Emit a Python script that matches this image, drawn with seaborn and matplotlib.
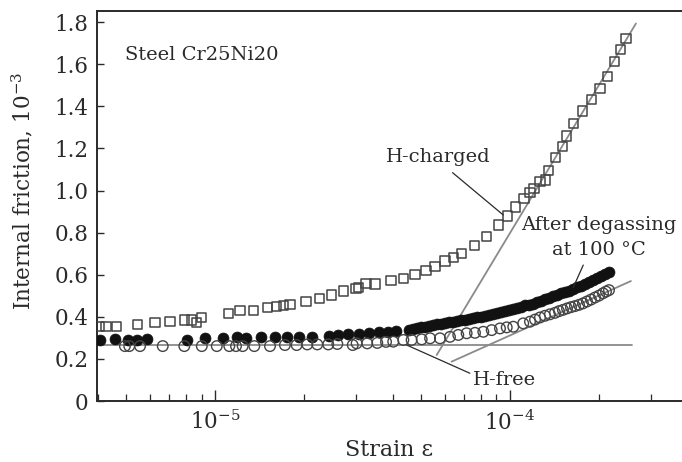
import numpy as np
import pandas as pd
import matplotlib
matplotlib.use("Agg")
import matplotlib.pyplot as plt
import matplotlib.ticker as mticker
import seaborn as sns

# ---------------- data (strain in units of 1e-5, internal friction in 1e-3) -------------
charged_strain = [0.405, 0.427, 0.464, 0.545, 0.626, 0.704, 0.787, 0.834, 0.863, 0.902,
                  1.109, 1.216, 1.349, 1.509, 1.619, 1.704, 1.795, 2.033, 2.259, 2.488,
                  2.735, 3.006, 3.062, 3.251, 3.485, 3.951, 4.348, 4.764, 5.188, 5.57,
                  6.025, 6.43, 6.86, 7.57, 8.34, 9.12, 9.79, 10.47, 11.15, 11.69,
                  12.06, 12.64, 13.21, 13.49, 14.29, 15.10, 15.56, 16.40, 17.62, 18.92,
                  20.18, 21.38, 22.59, 23.71, 24.72]
charged_q = [0.353, 0.353, 0.353, 0.364, 0.372, 0.377, 0.385, 0.385, 0.374, 0.396,
             0.417, 0.429, 0.432, 0.443, 0.451, 0.455, 0.459, 0.472, 0.488, 0.504,
             0.523, 0.535, 0.540, 0.559, 0.556, 0.572, 0.583, 0.603, 0.622, 0.641,
             0.665, 0.683, 0.702, 0.738, 0.781, 0.836, 0.879, 0.922, 0.964, 0.990,
             1.009, 1.042, 1.050, 1.094, 1.156, 1.208, 1.259, 1.319, 1.378, 1.433,
             1.486, 1.541, 1.615, 1.671, 1.723]

degassed_strain = [0.408, 0.458, 0.508, 0.543, 0.587, 0.802, 0.925, 1.067, 1.185, 1.274,
                   1.429, 1.597, 1.750, 1.931, 2.127, 2.441, 2.618, 2.831, 3.084, 3.334,
                   3.606, 3.868, 4.108,
                   4.55, 4.69, 4.84, 5.0, 5.15, 5.32, 5.49, 5.66, 5.84, 6.03,
                   6.22, 6.42, 6.62, 6.83, 7.05, 7.27, 7.5, 7.74, 7.99, 8.24,
                   8.5, 8.77, 9.05, 9.34, 9.63, 9.94, 10.25, 10.58, 10.92, 11.26,
                   11.62, 11.99, 12.37, 12.76, 13.17, 13.59, 14.02, 14.46, 14.92, 15.4,
                   15.88, 16.39, 16.91, 17.44, 18.0, 18.57, 19.16, 19.77, 20.39, 21.04, 21.7]
degassed_q = [0.290, 0.293, 0.290, 0.290, 0.293, 0.290, 0.298, 0.298, 0.303, 0.298,
              0.303, 0.303, 0.305, 0.305, 0.305, 0.309, 0.314, 0.318, 0.318, 0.324,
              0.326, 0.329, 0.334,
              0.339, 0.342, 0.346, 0.350, 0.353, 0.357, 0.361, 0.364, 0.368, 0.371,
              0.374, 0.377, 0.380, 0.383, 0.386, 0.389, 0.393, 0.397, 0.401, 0.405,
              0.409, 0.414, 0.419, 0.424, 0.429, 0.434, 0.439, 0.444, 0.449, 0.454,
              0.458, 0.463, 0.470, 0.477, 0.484, 0.491, 0.497, 0.504, 0.511, 0.517,
              0.524, 0.532, 0.540, 0.548, 0.557, 0.566, 0.575, 0.584, 0.594, 0.603, 0.612]

free_strain = [0.495, 0.512, 0.557, 0.665, 0.787, 0.902, 1.014, 1.118, 1.178, 1.241,
               1.359, 1.536, 1.726, 1.891, 2.055, 2.222, 2.421, 2.598, 2.930, 3.021,
               3.281, 3.549, 3.800, 4.02, 4.35, 4.64, 5.02, 5.36, 5.79, 6.26,
               6.68, 7.13, 7.61, 8.12, 8.67, 9.25, 9.75, 10.26, 11.09, 11.69,
               12.16, 12.64, 13.14, 13.66, 14.21, 14.66, 15.12, 15.61, 16.10, 16.61,
               17.14, 17.68, 18.24, 18.82, 19.42, 20.04, 20.67, 21.16, 21.66]
free_q = [0.261, 0.261, 0.261, 0.261, 0.261, 0.261, 0.261, 0.261, 0.261, 0.261,
          0.261, 0.261, 0.266, 0.266, 0.269, 0.269, 0.269, 0.271, 0.266, 0.274,
          0.274, 0.276, 0.281, 0.282, 0.290, 0.290, 0.293, 0.298, 0.298, 0.305,
          0.314, 0.322, 0.324, 0.329, 0.337, 0.345, 0.350, 0.353, 0.369, 0.377,
          0.387, 0.397, 0.405, 0.412, 0.419, 0.427, 0.433, 0.440, 0.446, 0.451,
          0.457, 0.464, 0.473, 0.482, 0.492, 0.501, 0.512, 0.520, 0.527]

# gray fit lines (endpoints)
charged_fit_strain = [5.643, 26.73]
charged_fit_q = [0.2185, 1.794]
free_fit_strain = [6.34, 25.7]
free_fit_q = [0.187, 0.570]
base_fit_strain = [0.40, 25.85]
base_fit_q = [0.266, 0.266]

SCALE = 1e-5

sns.set_style("ticks")
plt.rcParams["font.family"] = ["DejaVu Serif"]
plt.rcParams["mathtext.fontset"] = "dejavuserif"

fig = plt.figure(figsize=(6.82, 4.62), dpi=100)
ax = fig.add_axes([0.1422, 0.132, 0.8578, 0.844])

ink = "#2a2a2a"
gray = "#8a8a8a"

def df(xs, ys):
    return pd.DataFrame({"strain": np.asarray(xs) * SCALE, "q": ys})

for xs, ys in [(base_fit_strain, base_fit_q), (free_fit_strain, free_fit_q),
               (charged_fit_strain, charged_fit_q)]:
    sns.lineplot(data=df(xs, ys), x="strain", y="q", ax=ax, color=gray,
                 linewidth=1.3, zorder=1)

sns.scatterplot(data=df(degassed_strain, degassed_q), x="strain", y="q", ax=ax,
                marker="o", s=62, color="#111111", edgecolor="#111111", linewidth=0.5, zorder=3)
sns.scatterplot(data=df(free_strain, free_q), x="strain", y="q", ax=ax,
                marker="o", s=58, facecolor="none", edgecolor="#444444", linewidth=1.0, zorder=4)
sns.scatterplot(data=df(charged_strain, charged_q), x="strain", y="q", ax=ax,
                marker="s", s=44, facecolor="none", edgecolor="#444444", linewidth=1.1, zorder=4)

ax.set_xscale("log")
ax.set_xlim(3.98e-6, 3.83e-4)
ax.set_ylim(0, 1.853)

ax.xaxis.set_major_locator(mticker.LogLocator(base=10))
ax.xaxis.set_minor_locator(mticker.LogLocator(base=10, subs=np.arange(2, 10)))
ax.xaxis.set_major_formatter(mticker.LogFormatterMathtext())
ax.xaxis.set_minor_formatter(mticker.NullFormatter())
ax.set_yticks([0, 0.2, 0.4, 0.6, 0.8, 1.0, 1.2, 1.4, 1.6, 1.8])
ax.set_yticklabels(["0", "0.2", "0.4", "0.6", "0.8", "1.0", "1.2", "1.4", "1.6", "1.8"])

ax.tick_params(axis="both", which="both", direction="in", colors=ink, labelsize=15.5)
ax.tick_params(axis="x", which="major", length=8, width=1.0, pad=7)
ax.tick_params(axis="x", which="minor", length=5, width=0.9)
ax.tick_params(axis="y", which="major", length=5, width=1.0, pad=6)

for side in ["left", "bottom", "top"]:
    ax.spines[side].set_visible(True)
    ax.spines[side].set_color(ink)
    ax.spines[side].set_linewidth(1.4)
ax.spines["right"].set_visible(False)

ax.set_xlabel("Strain ε", fontsize=16, color=ink, labelpad=3)
ax.set_ylabel("Internal friction, 10$^{-3}$", fontsize=15.5, color=ink)
ax.yaxis.set_label_coords(-0.105, 0.54)

# annotations
fs = 14
ax.text(0.495 * SCALE, 1.644, "Steel Cr25Ni20", fontsize=fs, color=ink,
        ha="left", va="center")
ax.text(5.70 * SCALE, 1.159, "H-charged", fontsize=fs, color=ink, ha="center", va="center")
ax.text(20.04 * SCALE, 0.836, "After degassing", fontsize=fs, color=ink, ha="center", va="center")
ax.text(20.04 * SCALE, 0.717, "at 100 °C", fontsize=fs, color=ink, ha="center", va="center")
ax.text(9.55 * SCALE, 0.10, "H-free", fontsize=fs, color=ink, ha="center", va="center")

leaders_x = [[6.39, 9.49], [17.72, 16.39], [4.467, 7.31]]
leaders_y = [[1.085, 0.884], [0.646, 0.540], [0.266, 0.132]]
for lx, ly in zip(leaders_x, leaders_y):
    sns.lineplot(data=df(lx, ly), x="strain", y="q", ax=ax, color=ink,
                 linewidth=0.9, zorder=5)

fig.savefig("out.png", dpi=100)
